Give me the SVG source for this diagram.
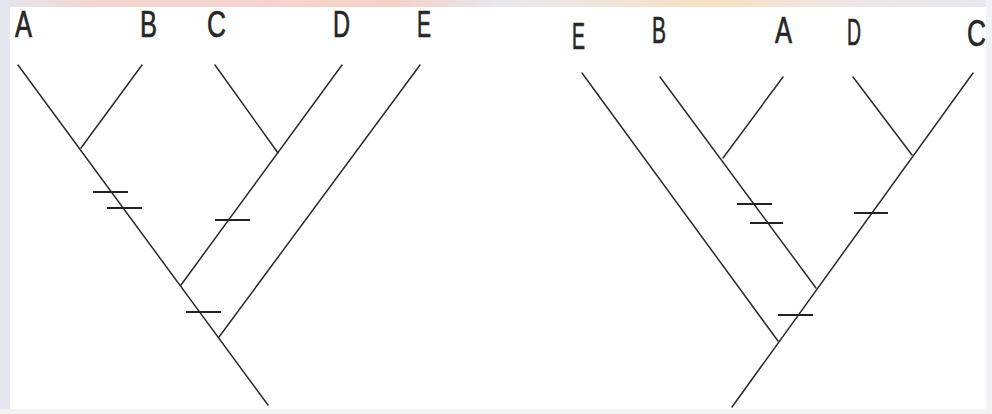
<svg xmlns="http://www.w3.org/2000/svg" width="992" height="414" viewBox="0 0 992 414">
<defs>
<linearGradient id="topband" x1="0" y1="0" x2="1" y2="0">
<stop offset="0" stop-color="#e6e4ee"/>
<stop offset="0.1" stop-color="#f3d6d0"/>
<stop offset="0.4" stop-color="#f4d2c8"/>
<stop offset="0.5" stop-color="#e8e6ee"/>
<stop offset="0.72" stop-color="#f6e2c4"/>
<stop offset="0.85" stop-color="#eee4e4"/>
<stop offset="1" stop-color="#e6e8f0"/>
</linearGradient>
</defs>
<style>
.br{stroke:#2a2a2a;stroke-width:1.5;fill:none;stroke-linecap:round}
.tk{stroke:#222;stroke-width:2.2;fill:none}
.lb{font-family:"Liberation Sans",Arial,sans-serif;font-size:36px;fill:#262626;stroke:#262626;stroke-width:0.7}
</style>
<rect width="992" height="414" fill="#ffffff"/>
<rect x="0" y="0" width="992" height="7" fill="url(#topband)"/>
<rect x="0" y="0" width="10" height="414" fill="#e4e6f0"/>
<rect x="986" y="0" width="6" height="414" fill="#f1f2f7"/>
<rect x="0" y="409" width="992" height="5" fill="#f4f3f3"/>

<g id="connectors">
<g id="left-tree-branches">
<line class="br" x1="18" y1="65" x2="268" y2="405"/>
<line class="br" x1="142" y1="65" x2="81" y2="148"/>
<line class="br" x1="215" y1="65" x2="278" y2="153"/>
<line class="br" x1="342" y1="65" x2="181" y2="285"/>
<line class="br" x1="420" y1="65" x2="219" y2="337"/>
</g>
<g id="right-tree-branches">
<line class="br" x1="973" y1="73" x2="732" y2="407"/>
<line class="br" x1="582" y1="73" x2="778" y2="341"/>
<line class="br" x1="660" y1="77" x2="816" y2="288"/>
<line class="br" x1="783" y1="77" x2="723" y2="158"/>
<line class="br" x1="853" y1="77" x2="912" y2="155"/>
</g>
<g id="ticks">
<line class="tk" x1="93" y1="192" x2="128" y2="192"/>
<line class="tk" x1="107" y1="208" x2="142" y2="208"/>
<line class="tk" x1="215" y1="220" x2="250" y2="220"/>
<line class="tk" x1="186" y1="312" x2="221" y2="312"/>
<line class="tk" x1="737" y1="204" x2="772" y2="204"/>
<line class="tk" x1="750" y1="223" x2="783" y2="223"/>
<line class="tk" x1="854" y1="213" x2="888" y2="213"/>
<line class="tk" x1="778" y1="315" x2="813" y2="315"/>
</g>
</g>

<g id="left-A"><text class="lb" x="15" y="37" textLength="17" lengthAdjust="spacingAndGlyphs">A</text></g>
<g id="left-B"><text class="lb" x="140" y="37" textLength="17" lengthAdjust="spacingAndGlyphs">B</text></g>
<g id="left-C"><text class="lb" x="207" y="37" textLength="19" lengthAdjust="spacingAndGlyphs">C</text></g>
<g id="left-D"><text class="lb" x="333" y="37" textLength="17" lengthAdjust="spacingAndGlyphs">D</text></g>
<g id="left-E"><text class="lb" x="417" y="37" textLength="14" lengthAdjust="spacingAndGlyphs">E</text></g>

<g id="right-E"><text class="lb" x="572" y="49" textLength="13" lengthAdjust="spacingAndGlyphs">E</text></g>
<g id="right-B"><text class="lb" x="652" y="43" textLength="14" lengthAdjust="spacingAndGlyphs">B</text></g>
<g id="right-A"><text class="lb" x="775" y="43" textLength="17" lengthAdjust="spacingAndGlyphs">A</text></g>
<g id="right-D"><text class="lb" x="847" y="45" textLength="14" lengthAdjust="spacingAndGlyphs">D</text></g>
<g id="right-C"><text class="lb" x="967" y="46" textLength="19" lengthAdjust="spacingAndGlyphs">C</text></g>
</svg>
